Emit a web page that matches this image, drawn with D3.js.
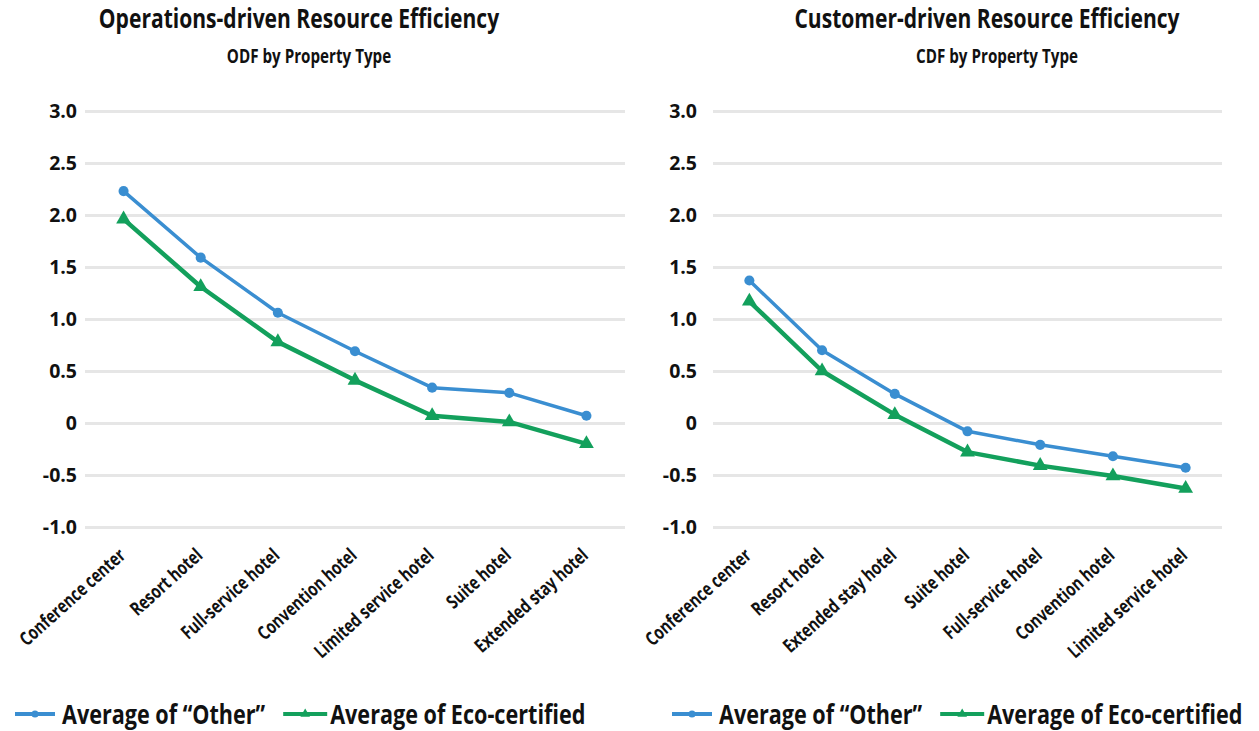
<!DOCTYPE html>
<html>
<head>
<meta charset="utf-8">
<script src="https://cdn.jsdelivr.net/npm/d3@7"></script>
<style>
  body { margin: 0; background: #fff; }
  text { font-family: "Open Sans", sans-serif; font-weight: 700; fill: #111; }
</style>
</head>
<body>
<svg id="chart"></svg>
<script>
// Data
const odfCategories = ["Conference center", "Resort hotel", "Full-service hotel", "Convention hotel",
  "Limited service hotel", "Suite hotel", "Extended stay hotel"];
const odfOther = [2.23, 1.59, 1.06, 0.69, 0.34, 0.29, 0.07];
const odfEco = [1.96, 1.31, 0.78, 0.41, 0.07, 0.01, -0.20];

const cdfCategories = ["Conference center", "Resort hotel", "Extended stay hotel", "Suite hotel",
  "Full-service hotel", "Convention hotel", "Limited service hotel"];
const cdfOther = [1.37, 0.70, 0.28, -0.08, -0.21, -0.32, -0.43];
const cdfEco = [1.17, 0.50, 0.08, -0.28, -0.41, -0.51, -0.63];

const yTicks = [3.0, 2.5, 2.0, 1.5, 1.0, 0.5, 0, -0.5, -1.0];
const seriesNames = ["Average of \u201COther\u201D", "Average of Eco-certified"];

// Layout / style constants
const CONFIG = {
  width: 1259,
  height: 731,
  top: 111,
  bottom: 527,
  blue: "#3a8ed1",
  green: "#13a05c",
  grid: "#e6e6e6",
  labelY: 557,
  labelAngle: -42,
  legendY: 714
};

const panels = [
  { title: "Operations-driven Resource Efficiency", subtitle: "ODF by Property Type",
    categories: odfCategories, other: odfOther, eco: odfEco,
    x0: 85, x1: 625, labelX: 77, center: 299, legendX: 15 },
  { title: "Customer-driven Resource Efficiency", subtitle: "CDF by Property Type",
    categories: cdfCategories, other: cdfOther, eco: cdfEco,
    x0: 713, x1: 1222, labelX: 697, center: 987, legendX: 672 }
];

const svg = d3.select("#chart")
  .attr("width", CONFIG.width)
  .attr("height", CONFIG.height);

/**
 * Text squeezed horizontally (the original uses a condensed face)
 * @param {string} pre - transform placed before the squeeze
 * @param {number} f - horizontal scale
 */
function squeezed(parent, pre, f, size, str) {
  return parent.append("text")
    .attr("transform", `${pre} scale(${f},1)`)
    .style("font-size", size + "px")
    .text(str);
}

const y = d3.scaleLinear().domain([-1, 3]).range([CONFIG.bottom, CONFIG.top]);
const fmt = d => d === 0 ? "0" : d.toFixed(1);

panels.forEach(p => {
  const g = svg.append("g");
  const x = d3.scalePoint().domain(p.categories).range([p.x0, p.x1]).padding(0.5);

  // titles
  squeezed(g, `translate(${p.center},28)`, 0.78, 27, p.title).attr("text-anchor", "middle");
  squeezed(g, `translate(${p.center + 10},63)`, 0.76, 20, p.subtitle).attr("text-anchor", "middle");

  // y axis with gridlines
  const axis = g.append("g")
    .attr("transform", `translate(${p.x0},0)`)
    .call(d3.axisLeft(y).tickValues(yTicks).tickFormat(fmt)
      .tickSize(-(p.x1 - p.x0)).tickPadding(p.x0 - p.labelX));
  axis.select(".domain").remove();
  axis.selectAll(".tick line").attr("stroke", CONFIG.grid).attr("stroke-width", 3);
  axis.selectAll(".tick text")
    .attr("fill", "#111")
    .style("font-family", "'Open Sans', sans-serif")
    .style("font-weight", 700)
    .style("font-size", "19.5px");

  // category labels
  p.categories.forEach(c => {
    squeezed(g, `translate(${x(c) + 3},${CONFIG.labelY}) rotate(${CONFIG.labelAngle})`, 0.77, 19, c)
      .attr("class", "xlabel")
      .attr("text-anchor", "end");
  });

  // series
  const series = [
    { values: p.other, color: CONFIG.blue, width: 3.5, symbol: d3.symbolCircle, size: 80 },
    { values: p.eco, color: CONFIG.green, width: 4.5, symbol: d3.symbolTriangle, size: 95 }
  ];
  const line = d3.line()
    .x((d, i) => x(p.categories[i]))
    .y(d => y(d));

  series.forEach(s => {
    g.append("path")
      .datum(s.values)
      .attr("fill", "none")
      .attr("stroke", s.color)
      .attr("stroke-width", s.width)
      .attr("stroke-linejoin", "round")
      .attr("d", line);
    g.selectAll(null)
      .data(s.values)
      .enter().append("path")
      .attr("transform", (d, i) => `translate(${x(p.categories[i])},${y(d)})`)
      .attr("fill", s.color)
      .attr("d", d3.symbol().type(s.symbol).size(s.size));
  });

  // legend
  const legendSqueeze = 0.8;
  let lx = p.legendX;
  series.forEach((s, i) => {
    const segLen = i === 0 ? 40 : 44;
    g.append("line")
      .attr("x1", lx).attr("x2", lx + segLen)
      .attr("y1", CONFIG.legendY).attr("y2", CONFIG.legendY)
      .attr("stroke", s.color).attr("stroke-width", 4);
    g.append("path")
      .attr("transform", `translate(${lx + segLen / 2},${CONFIG.legendY})`)
      .attr("fill", s.color)
      .attr("d", d3.symbol().type(s.symbol).size(40));
    const tx = lx + segLen + (i === 0 ? 7 : 3);
    const t = squeezed(g, `translate(${tx},${CONFIG.legendY + 10})`, legendSqueeze, 27, seriesNames[i]);
    lx = tx + t.node().getComputedTextLength() * legendSqueeze + 18;
  });
});
</script>
</body>
</html>
